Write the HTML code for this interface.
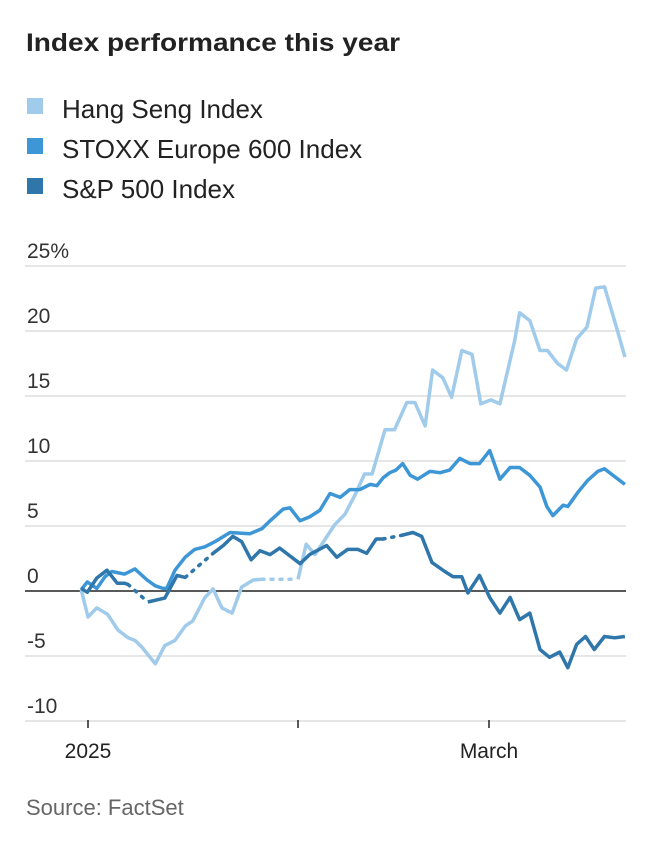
<!DOCTYPE html>
<html><head><meta charset="utf-8"><style>
body{margin:0;background:#fff;width:672px;height:844px;overflow:hidden;font-family:"Liberation Sans",sans-serif}
svg{display:block}
</style></head><body>
<svg width="672" height="844">
<text x="26" y="51" font-size="25" font-weight="bold" fill="#222" textLength="374" lengthAdjust="spacingAndGlyphs">Index performance this year</text>
<g>
<rect x="27" y="98" width="16" height="16" fill="#a0cbeb"/>
<text x="62" y="118" font-size="26" fill="#222">Hang Seng Index</text>
<rect x="27" y="138" width="16" height="16" fill="#3d96d6"/>
<text x="62" y="158" font-size="26" fill="#222">STOXX Europe 600 Index</text>
<rect x="27" y="178" width="16" height="16" fill="#2f76ab"/>
<text x="62" y="198" font-size="26" fill="#222">S&amp;P 500 Index</text>
</g>
<g id="grid"></g>
<g id="series"></g>
<text x="26" y="815" font-size="22" fill="#666">Source: FactSet</text>
</svg>
<script>
const yTicks=[25,20,15,10,5,0,-5,-10];
const yTickLabels=["25%","20","15","10","5","0","-5","-10"];
const xTickDays=[0,30.9,59];
const xTickLabels=["2025","","March"];
const hsDays=[-1,0,1.3,2.9,4.4,5.9,6.9,7.9,9.9,11.3,12.8,14.3,15.4,17.2,18.4,19.7,21.2,22.6,24.3,25.6,28,30.9,32.1,33.4,36.3,37.8,39.3,40.7,41.8,43.7,45.1,46.9,48.1,49.6,50.7,52.2,53.5,55,56.5,57.8,59.3,60.6,62.8,63.5,65,66.5,67.6,69.1,70.4,71.9,73.4,74.7,76,77.8,79];
const hsVals=[0.1,-2,-1.3,-1.8,-3,-3.6,-3.8,-4.3,-5.6,-4.2,-3.8,-2.7,-2.3,-0.5,0.15,-1.3,-1.7,0.3,0.85,0.9,null,0.9,3.6,2.8,5.1,5.9,7.4,9,9,12.4,12.4,14.5,14.5,12.7,17,16.4,14.9,18.5,18.2,14.4,14.7,14.4,19.3,21.4,20.8,18.5,18.5,17.5,17,19.4,20.3,23.3,23.4,20.2,18];
const stDays=[-1,-0.1,1.3,2.5,3.5,5.4,6.9,8.7,9.9,11,11.6,12.8,14.3,15.7,17.2,18.7,20.9,23.8,25.6,26.8,28.7,29.7,31.2,32.6,34.1,35.6,37.1,38.5,40,41.5,42.5,43.4,44.4,45.3,46.3,47.4,48.5,50.3,51.8,53.2,54.7,56.2,57.6,59.1,60.6,62.1,63.5,65,66.5,67.5,68.4,69.9,70.6,72.1,73.5,75,76,77.5,79];
const stVals=[0.1,0.7,0.2,1.1,1.5,1.3,1.7,0.85,0.4,0.2,0.2,1.6,2.6,3.2,3.4,3.8,4.5,4.4,4.8,5.4,6.3,6.4,5.4,5.7,6.2,7.5,7.2,7.8,7.8,8.2,8.1,8.7,9.1,9.3,9.8,8.9,8.6,9.2,9.1,9.3,10.2,9.8,9.8,10.8,8.6,9.5,9.5,8.9,8,6.5,5.8,6.6,6.5,7.6,8.5,9.2,9.4,8.8,8.2];
const spDays=[-1,-0.1,1.3,2.8,4.3,5.4,5.9,7.3,8.8,11.3,13.1,14.3,16.4,18.4,19.9,21.3,22.6,24,25.3,26.8,28.2,31.2,32.6,35.1,36.6,38.2,39.7,41,42.4,43.4,45,46.3,47.8,49.1,50.6,52.5,53.7,55,55.9,57.6,59.1,60.6,62.1,63.5,65,66.5,67.9,69.4,70.6,71.9,73.2,74.5,76,77.5,79];
const spVals=[0.2,-0.1,1,1.6,0.6,0.6,0.5,null,-0.85,-0.55,1.2,1.05,null,2.9,3.5,4.2,3.8,2.4,3.1,2.8,3.3,2.1,2.8,3.5,2.6,3.2,3.2,2.9,4,4,null,4.3,4.5,4.2,2.2,1.5,1.1,1.1,-0.15,1.2,-0.5,-1.7,-0.5,-2.2,-1.7,-4.5,-5.1,-4.7,-5.9,-4.1,-3.5,-4.5,-3.5,-3.6,-3.5];
const NS="http://www.w3.org/2000/svg";
const x=d=>88+d*(401/59);
const y=v=>591-v*13;
const L=25,R=626;
const grid=document.getElementById('grid');
function mk(tag,attrs,parent){const e=document.createElementNS(NS,tag);for(const k in attrs)e.setAttribute(k,attrs[k]);parent.appendChild(e);return e;}
yTicks.forEach((t,i)=>{
 const ln=mk('line',{x1:L,x2:R,y1:y(t),y2:y(t),stroke:t===0?'#222':'#ddd','stroke-width':t===0?1.6:1.5},grid);
 
 
 const tx=mk('text',{x:27,y:y(t)-8,'font-size':21,fill:'#333'},grid);
 tx.textContent=yTickLabels[i];
 
 
});
xTickDays.forEach((d,i)=>{
 const tk=mk('line',{x1:x(d),x2:x(d),y1:720,y2:728,stroke:'#222','stroke-width':1.5},grid);
 
 
 if(xTickLabels[i]){
  const tx=mk('text',{x:x(d),y:758,'font-size':21,fill:'#222','text-anchor':'middle'},grid);
  tx.textContent=xTickLabels[i];
  
  
 }
});
const ser=document.getElementById('series');
function draw(days,vals,color,name){
 const g=mk('g',{},ser);
 
 
 let seg=[],prev=null,gap=false;
 const flush=()=>{if(seg.length>1){const p=mk('polyline',{points:seg.join(' '),fill:'none',stroke:color,'stroke-width':3.5,'stroke-linejoin':'round'},g);}seg=[];};
 for(let i=0;i<days.length;i++){
  if(vals[i]===null){flush();gap=true;continue;}
  const pt=[x(days[i]).toFixed(1),y(vals[i]).toFixed(1)];
  if(gap&&prev){const d=mk('line',{x1:prev[0],y1:prev[1],x2:pt[0],y2:pt[1],stroke:color,'stroke-width':3.5,'stroke-dasharray':'2 7','stroke-linecap':'round'},g);gap=false;}
  seg.push(pt.join(','));prev=pt;
 }
 flush();
}
draw(hsDays,hsVals,'#a0cbeb','hang-seng-series');
draw(stDays,stVals,'#3d96d6','stoxx-series');
draw(spDays,spVals,'#2f76ab','sp500-series');
</script>
</body></html>
